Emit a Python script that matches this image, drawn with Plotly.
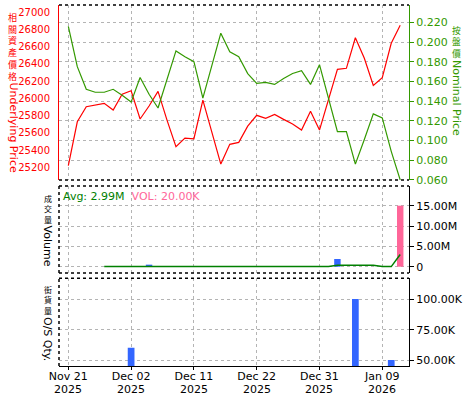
import plotly.graph_objects as go

# ---------------- data ----------------
dates = [
    "2025-11-21", "2025-11-24", "2025-11-25", "2025-11-26", "2025-11-27", "2025-11-28",
    "2025-12-01", "2025-12-02", "2025-12-03", "2025-12-04", "2025-12-05",
    "2025-12-08", "2025-12-09", "2025-12-10", "2025-12-11", "2025-12-12",
    "2025-12-15", "2025-12-16", "2025-12-17", "2025-12-18", "2025-12-19",
    "2025-12-22", "2025-12-23", "2025-12-24", "2025-12-25", "2025-12-26",
    "2025-12-29", "2025-12-30", "2025-12-31", "2026-01-01", "2026-01-02",
    "2026-01-05", "2026-01-06", "2026-01-07", "2026-01-08", "2026-01-09",
    "2026-01-12", "2026-01-13",
]
underlying = [25220, 25729, 25904, 25923, 25943, 25865, 26048, 26089, 25761, 25912,
              26082, 25749, 25439, 25540, 25532, 25981, 25595, 25238, 25467, 25490,
              25679, 25804, 25769, 25815, 25757, 25703, 25633, 25850, 25633, 25981,
              26338, 26350, 26705, 26466, 26152, 26240, 26641, 26849]
nominal = [0.216, 0.175, 0.152, 0.149, 0.149, 0.152, 0.146, 0.139, 0.164, 0.147,
           0.133, 0.163, 0.191, 0.185, 0.180, 0.143, 0.175, 0.209, 0.190, 0.185,
           0.168, 0.158, 0.159, 0.157, 0.163, 0.168, 0.171, 0.157, 0.177, 0.143,
           0.109, 0.109, 0.076, 0.101, 0.127, 0.123, 0.089, 0.060]
volume = [0, 0, 0, 0, 0, 0, 0, 0, 0, 0.5e6,
          0, 0, 0, 0, 0, 0, 0, 0, 0, 0,
          0, 0, 0, 0, 0, 0, 0, 0, 0, 0,
          1.9e6, 0, 0, 0, 0, 0, 0, None]
volume_last = [None] * 37 + [15.0e6]
volume_avg = [None, None, None, None, 0.02e6, 0.02e6, 0.02e6, 0.02e6, 0.02e6, 0.1e6,
              0.1e6, 0.1e6, 0.1e6, 0.1e6, 0.02e6, 0.02e6, 0.02e6, 0.02e6, 0.02e6, 0.02e6,
              0.02e6, 0.02e6, 0.02e6, 0.02e6, 0.02e6, 0.02e6, 0.02e6, 0.02e6, 0.02e6, 0.02e6,
              0.38e6, 0.38e6, 0.38e6, 0.38e6, 0.38e6, 0.02e6, 0.02e6, 3.0e6]
os_qty = [0, 0, 0, 0, 0, 0, 0, 60300, 0, 0,
          0, 0, 0, 0, 0, 0, 0, 0, 0, 0,
          0, 0, 0, 0, 0, 0, 0, 0, 0, 0,
          0, 0, 100200, 0, 0, 0, 50200, 0]

tick_dates = ["2025-11-21", "2025-12-02", "2025-12-11", "2025-12-22", "2025-12-31", "2026-01-09"]
tick_labels = ["Nov 21", "Dec 02", "Dec 11", "Dec 22", "Dec 31", "Jan 09"]
tick_years = ["2025", "2025", "2025", "2025", "2025", "2026"]
vol_tickvals = [0, 5e6, 10e6, 15e6]
vol_ticktext = ["0", "5.00M", "10.00M", "15.00M"]
os_tickvals = [50000, 75000, 100000]
os_ticktext = ["50.00K", "75.00K", "100.00K"]
avg_text = "Avg: 2.99M"
vol_text = "VOL: 20.00K"

# ---------------- styling ----------------
W, H = 475, 400
ML, MR, MT, MB = 59, 66, 5, 34
RED = "#ff0000"
GREEN = "#339900"
DKGREEN = "#008000"
BLUE = "#3366ff"
PINK = "#ff6699"
GRID = "#b4b4b4"
FONT = "DejaVu Sans"
CJK = "Noto Sans CJK TC"


def px(x):
    return (x - ML) / (W - ML - MR)


def py(y):
    return (H - MB - y) / (H - MT - MB)


fig = go.Figure()

fig.add_trace(go.Scatter(x=dates, y=underlying, mode="lines", line=dict(color=RED, width=1.2),
                         xaxis="x2", yaxis="y", showlegend=False))
fig.add_trace(go.Scatter(x=dates, y=nominal, mode="lines", line=dict(color=GREEN, width=1.2),
                         xaxis="x2", yaxis="y2", showlegend=False))
fig.add_trace(go.Bar(x=dates, y=volume, marker=dict(color=BLUE, line=dict(width=0)), width=0.72,
                     xaxis="x3", yaxis="y3", showlegend=False))
fig.add_trace(go.Bar(x=dates, y=volume_last, marker=dict(color=PINK, line=dict(width=0)), width=0.72,
                     xaxis="x3", yaxis="y3", showlegend=False))
fig.add_trace(go.Scatter(x=dates, y=volume_avg, mode="lines", line=dict(color=DKGREEN, width=1.5),
                         xaxis="x3", yaxis="y3", showlegend=False))
fig.add_trace(go.Bar(x=dates, y=os_qty, marker=dict(color=BLUE, line=dict(width=0)), width=0.75,
                     xaxis="x", yaxis="y4", showlegend=False))

xrange = [-1.04, 37.98]
grid_common = dict(showgrid=True, gridcolor=GRID, gridwidth=1, griddash="dot", zeroline=False,
                   automargin=False)

top_dom = [py(180), 1.0]
mid_dom = [py(273), py(186)]
bot_dom = [0.0, py(278.3)]

fig.update_layout(
    width=W, height=H,
    margin=dict(l=ML, r=MR, t=MT, b=MB, pad=0, autoexpand=False),
    paper_bgcolor="white", plot_bgcolor="white",
    font=dict(family=FONT, size=11, color="black"),
    barmode="overlay",
    showlegend=False,
    hovermode=False,
    xaxis=dict(domain=[0, 1], anchor="y4", type="category", categoryorder="array",
               categoryarray=dates, range=xrange, tickmode="array", tickvals=tick_dates,
               ticktext=tick_labels, ticks="outside", ticklen=3, tickcolor="black",
               ticklabelstandoff=-3,
               showline=True, linecolor="black", linewidth=1, tickfont=dict(size=11),
               **grid_common),
    xaxis2=dict(domain=[0, 1], anchor="y", matches="x", type="category", showticklabels=False,
                tickmode="array", tickvals=tick_dates, ticks="", showline=False, **grid_common),
    xaxis3=dict(domain=[0, 1], anchor="y3", matches="x", type="category", showticklabels=False,
                tickmode="array", tickvals=tick_dates, ticks="", showline=False, **grid_common),
    yaxis=dict(domain=top_dom, anchor="x2", side="left", range=[25053, 27085],
               tick0=25000, dtick=200, tickformat="d", showgrid=False, zeroline=False,
               automargin=False,
               showline=True, linecolor=RED, linewidth=1, ticks="outside", ticklen=6,
               tickcolor="rgba(0,0,0,0)", tickfont=dict(color=RED, size=10)),
    yaxis2=dict(domain=top_dom, anchor="x2", overlaying="y", side="right",
                range=[0.0599, 0.2376], tick0=0.06, dtick=0.02, tickformat=".3f",
                showline=True, linecolor=GREEN, linewidth=1, ticks="outside", ticklen=4,
                tickcolor=GREEN, tickfont=dict(color=GREEN, size=11), **grid_common),
    yaxis3=dict(domain=mid_dom, anchor="x3", side="right", range=[-1.55e6, 19.84e6],
                tickmode="array", tickvals=vol_tickvals, ticktext=vol_ticktext,
                showline=True, linecolor="black", linewidth=1, ticks="outside", ticklen=4,
                tickcolor="black", tickfont=dict(size=11), **grid_common),
    yaxis4=dict(domain=bot_dom, anchor="x", side="right", range=[45300, 117200],
                tickmode="array", tickvals=os_tickvals, ticktext=os_ticktext,
                showline=True, linecolor="black", linewidth=1, ticks="outside", ticklen=4,
                tickcolor="black", tickfont=dict(size=11), **grid_common),
)

# dotted panel borders
dot = dict(color="black", width=1.5, dash="dot")
shapes = []
for xr, yr, sides in [("x2 domain", "y domain", ["top", "bottom"]),
                      ("x3 domain", "y3 domain", ["top", "bottom", "left"]),
                      ("x domain", "y4 domain", ["top", "left"])]:
    for s in sides:
        if s == "top":
            c = (0, 1, 1, 1)
        elif s == "bottom":
            c = (0, 0, 1, 0)
        else:
            c = (0, 0, 0, 1)
        shapes.append(dict(type="line", xref=xr, yref=yr, x0=c[0], y0=c[1], x1=c[2], y1=c[3],
                           line=dot, layer="above"))
fig.update_layout(shapes=shapes)

# axis titles: upright CJK characters stacked, Latin part rotated
annotations = []


def vtitle(cjk, latin, xc, y_top, cjk_size, latin_cy, color, latin_size=11):
    annotations.append(dict(text="<br>".join(cjk), xref="paper", yref="paper", x=px(xc), y=py(y_top),
                            xanchor="center", yanchor="top", showarrow=False, borderpad=0,
                            font=dict(family=CJK, size=cjk_size, color=color)))
    annotations.append(dict(text=latin, xref="paper", yref="paper", x=px(xc), y=py(latin_cy),
                            xanchor="center", yanchor="middle", showarrow=False, textangle=90,
                            borderpad=0, font=dict(family=FONT, size=latin_size, color=color)))


vtitle("相關資產價格", "Underlying Price", 12.5, 10, 9.0, 128, RED)
vtitle("按盤價", "Nominal Price", 456.5, 23.5, 8.8, 97.5, GREEN)
vtitle("成交量", "Volume", 47.5, 192, 8.0, 246, "black")
vtitle("街貨量", "O/S Qty.", 48, 282.5, 8.0, 339, "black")

annotations.append(dict(
    text=f"<span style='color:{DKGREEN}'>{avg_text}</span>  <span style='color:{PINK}'>{vol_text}</span>",
    xref="paper", yref="paper", x=px(61.5), y=py(196), xanchor="left", yanchor="middle",
    showarrow=False, borderpad=0, font=dict(family=FONT, size=11)))

# second line of the x tick labels (year)
for d, yr_txt in zip(tick_dates, tick_years):
    annotations.append(dict(text=yr_txt, xref="x", yref="paper", x=d, y=py(389.5),
                            xanchor="center", yanchor="middle", showarrow=False, borderpad=0,
                            font=dict(family=FONT, size=11, color="black")))

fig.update_layout(annotations=annotations)

fig.write_html("out.html", config={"displayModeBar": False, "staticPlot": True},
               post_script="document.body.style.margin='0';document.body.style.padding='0';")
